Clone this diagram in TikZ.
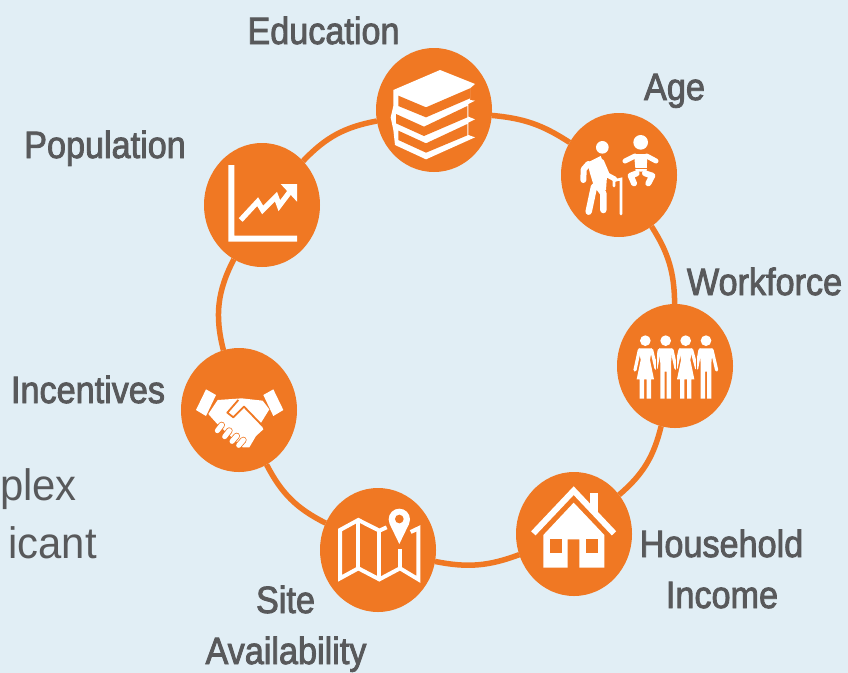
\documentclass[tikz,border=0pt]{standalone}
\usepackage{fontspec}
\setmainfont{Liberation Sans}[FakeStretch=0.9,FakeBold=2.2]
\newfontfamily\bodyfont{Liberation Sans}[FakeStretch=0.95]
\usetikzlibrary{shapes.geometric}
\definecolor{bgblue}{HTML}{E1EEF5}
\definecolor{ringorange}{HTML}{F07823}
\definecolor{labelgrey}{HTML}{58595B}
\definecolor{bodygrey}{HTML}{58595B}
\tikzset{
  hub/.style={ellipse,fill=ringorange,minimum width=116pt,minimum height=124pt,inner sep=0pt,outer sep=0pt},
  ringlink/.style={draw=ringorange,line width=5.5pt},
  lbl/.style={text=labelgrey,font=\fontsize{38}{38}\selectfont,inner sep=0pt,anchor=base},
  bodytxt/.style={text=bodygrey,font=\bodyfont\fontsize{44}{44}\selectfont,inner sep=0pt,anchor=base east},
  icon/.style={fill=white,draw=none},
  wline/.style={draw=white,line cap=round,line join=round},
  wbutt/.style={draw=white,line join=miter},
  gap/.style={fill=ringorange,draw=none}
}
\begin{document}
\begin{tikzpicture}[x=1pt,y=-1pt]
\useasboundingbox (0,0) rectangle (848,672);
\fill[bgblue] (-5,-5) rectangle (853,677);
\node[hub] (edu) at (434,110) {};
\node[hub] (age) at (619,175) {};
\node[hub] (work) at (675,366) {};
\node[hub] (house) at (574,534) {};
\node[hub] (site) at (378,550) {};
\node[hub] (inc) at (239,410) {};
\node[hub] (pop) at (262,205) {};
\draw[ringlink] (edu) to[bend left=14] (age);
\draw[ringlink] (age) to[bend left=16] (work);
\draw[ringlink] (work) to[bend left=18] (house);
\draw[ringlink] (house) to[bend left=16] (site);
\draw[ringlink] (site) to[bend left=18] (inc);
\draw[ringlink] (inc) to[bend left=21] (pop);
\draw[ringlink] (pop) to[bend left=18] (edu);
% labels
\node[lbl] (tedu) at (323.5,44) {Education};
\node[lbl] (tage) at (674.5,100) {Age};
\node[lbl] (tpop) at (105,158) {Population};
\node[lbl] (twork) at (764.5,295) {Workforce};
\node[lbl] (tinc) at (88,403) {Incentives};
\node[lbl] (thouse) at (721.5,557) {Household};
\node[lbl] (tincome) at (722,608) {Income};
\node[lbl] (tsite) at (285.5,613) {Site};
\node[lbl] (tavail) at (286,664) {Availability};
\node[bodytxt] (tplex) at (77,500) {plex};
\node[bodytxt] (ticant) at (97,558) {icant};
% books
\begin{scope}[shift={(360,30)},scale=1/3]
\fill[icon] (240,120)--(345,162)--(330,175)--(330,210)--(345,212)--(325,222)--(325,260)--(345,268)--(325,278)--(325,315)--(345,322)--(198,388)--(105,345)--(100,300)--(92,262)--(100,228)--(100,180)--cycle;
\fill[gap] (115,197)--(198,232)--(330,175)--(330,205)--(198,262)--(115,228)--cycle;
\fill[gap] (108,252)--(192,290)--(322,228)--(322,262)--(192,318)--(108,280)--cycle;
\fill[gap] (115,302)--(198,340)--(322,282)--(322,316)--(198,368)--(115,330)--cycle;
% age
\fill[icon] (727,352) circle[radius=19];
\fill[icon] (682,398)--(722,378)--(742,425)--(738,480)--(705,480)--(690,430)--cycle;
\draw[wline,line width=6pt] (685,402)--(671,418)--(670,450);
\draw[wline,line width=5pt] (725,395)--(742,435)--(764,447);
\draw[wline,line width=6.5pt] (702,470)--(686,545);
\draw[wline,line width=6.5pt] (715,470)--(730,490)--(730,540);
\draw[draw=white,line width=2.6pt,line cap=round] (762,468)--(762,452)--(783,447)--(783,552);
\fill[icon] (842,337) circle[radius=22];
\fill[icon] (822,372)--(862,372)--(860,425)--(827,425)--cycle;
\draw[wline,line width=5pt] (795,393)--(825,378);
\draw[wline,line width=5pt] (888,393)--(860,378);
\draw[wline,line width=6pt] (830,430)--(812,437)--(822,460);
\draw[wline,line width=6pt] (855,430)--(877,437)--(865,460);
\draw[draw=ringorange,line width=.8pt] (825,416)--(860,416);
\end{scope}
% workforce, house
\begin{scope}[shift={(500,300)},scale=1/3]
\foreach \c in {436,557}{
  \fill[icon] (\c,122) circle[radius=16];
  \fill[icon] (\c-20,145)--(\c+20,145)--(\c+14,180)--(\c+26,238)--(\c+17,238)--(\c+17,296)--(\c+4,296)--(\c+4,238)--(\c-4,238)--(\c-4,296)--(\c-17,296)--(\c-17,238)--(\c-26,238)--(\c-14,180)--cycle;
}
\foreach \c in {497,618}{
  \fill[icon] (\c,122) circle[radius=16];
  \fill[icon] (\c-20,145)--(\c+20,145)--(\c+16,190)--(\c+16,296)--(\c+3,296)--(\c+3,215)--(\c-3,215)--(\c-3,296)--(\c-16,296)--(\c-16,190)--cycle;
}
\draw[wline,line width=3.2pt] (418,150)--(405,210);
\draw[wline,line width=3.2pt] (455,150)--(468,205)--(478,150);
\draw[wline,line width=3.2pt] (516,150)--(528,205)--(540,150);
\draw[wline,line width=3.2pt] (575,150)--(590,205)--(600,150);
\draw[wline,line width=3.2pt] (636,150)--(650,210);
\draw[draw=ringorange,line width=.6pt] (468,160)--(468,212);
\draw[draw=ringorange,line width=.6pt] (528,160)--(528,212);
\draw[draw=ringorange,line width=.6pt] (589,160)--(589,212);
% house
\fill[icon] (270,578) rectangle (295,640);
\draw[draw=ringorange,line width=3pt] (221,590)--(290,662);
\draw[wbutt,line width=6pt] (100,700)--(221,572)--(342,700);
\fill[icon] (130,705)--(221,608)--(313,705)--(313,803)--(238,803)--(238,718)--(203,718)--(203,803)--(130,803)--cycle;
\fill[gap] (150,718) rectangle (185,758);
\fill[gap] (258,718) rectangle (295,758);
\end{scope}
% chart
\begin{scope}[shift={(190,150)},scale=1/3]
\fill[icon] (115,45)--(133,45)--(133,257)--(321,257)--(321,275)--(115,275)--cycle;
\draw[wbutt,line width=5.3pt] (152,210)--(203,155)--(218,180)--(258,140)--(268,167)--(305,118);
\fill[icon] (272,102)--(321,102)--(321,155)--cycle;
\end{scope}
% handshake and map
\begin{scope}[shift={(170,340)},scale=1/3]
\fill[icon] (108,148)--(138,165)--(108,228)--(78,210)--cycle;
\fill[icon] (310,148)--(340,210)--(310,228)--(280,165)--cycle;
\fill[icon] (143,180)--(215,175)--(278,182)--(298,208)--(272,250)--(280,268)--(258,288)--(238,322)--(218,322)--(140,250)--(115,222)--cycle;
\draw[draw=ringorange,line width=1.8pt,line join=round] (278,258)--(222,200)--(190,232)--(172,218)--(205,180);
\draw[draw=ringorange,line width=6.6pt,line cap=round] (142,272)--(155,255);
\draw[draw=ringorange,line width=6.6pt,line cap=round] (164,290)--(178,272);
\draw[draw=ringorange,line width=6.6pt,line cap=round] (186,304)--(200,288);
\draw[draw=ringorange,line width=6.6pt,line cap=round] (206,316)--(220,300);
\draw[wline,line width=5pt] (142,272)--(155,255);
\draw[wline,line width=5pt] (164,290)--(178,272);
\draw[wline,line width=5pt] (186,304)--(200,288);
\draw[wline,line width=5pt] (206,316)--(220,300);
% map
\draw[wbutt,line width=4pt] (650,562)--(628,572)--(565,540)--(510,570)--(510,715)--(565,685)--(628,718)--(690,685)--(745,718)--(745,565)--(722,576);
\draw[wbutt,line width=4pt] (565,540)--(565,685);
\draw[wbutt,line width=4pt] (628,572)--(628,718);
\draw[wbutt,line width=4pt] (690,628)--(690,685);
\fill[icon] (688,538) circle[radius=32];
\fill[icon] (659,552)--(688,612)--(717,552)--cycle;
\fill[gap] (688,537) circle[radius=13];
\end{scope}
\end{tikzpicture}
\end{document}
